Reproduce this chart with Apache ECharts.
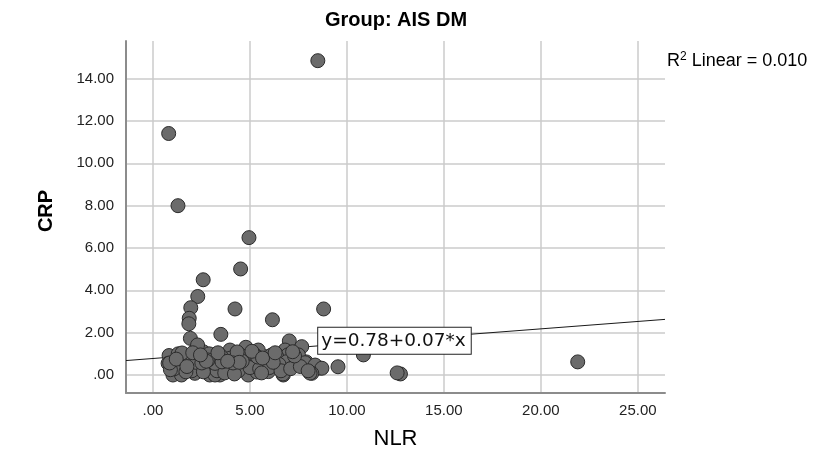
<!DOCTYPE html>
<html>
<head>
<meta charset="utf-8">
<script src="https://cdn.jsdelivr.net/npm/echarts@6/dist/echarts.min.js"></script>
<style>html,body{margin:0;padding:0;background:#fff;}#c{width:826px;height:471px;}</style>
</head>
<body>
<div id="c"></div>
<script>
var titleText = 'Group: AIS DM';
var xName = 'NLR';
var yName = 'CRP';
var xTicks = [0, 5, 10, 15, 20, 25];
var yTicks = [0, 2, 4, 6, 8, 10, 12, 14];
var xRange = [-1.39, 26.4];
var yRange = [-0.85, 15.78];
var fitIntercept = 0.78;
var fitSlope = 0.07;
var fitLabel = 'y=0.78+0.07*x';
var r2Label = 'Linear = 0.010';
var labelAnchor = [8.52, 1.62];

var nlr = [
  0.81, 1.29, 4.95, 8.5, 4.52, 2.59, 2.31, 1.95, 1.87, 1.85, 4.23, 6.16, 8.8, 3.5, 1.93, 7.03, 9.54, 10.85, 12.76, 12.59, 21.9, 7.67, 8.6, 8.2, 7.9,
  0.83, 1.47, 2.59, 3.97, 4.79, 5.43, 6.12, 6.81, 7.5, 6.4, 6.95,
  0.78, 1.29, 1.9, 2.5, 3.1, 3.62, 4.22, 4.74, 5.26, 5.86, 6.38, 6.9, 7.41, 7.84, 8.36, 8.71, 5.7,
  1.03, 1.47, 2.16, 2.93, 3.45, 4.91, 5.95, 6.72, 8.19, 3.2, 5.36, 6.7, 8.1,
  1.1, 1.6, 2.0, 2.3, 2.7, 3.0, 3.3, 3.8, 4.0, 4.4, 4.5, 5.0, 5.2, 5.5, 6.0, 6.5, 6.6, 7.1, 7.6, 8.0,
  1.3, 1.8, 2.2, 2.9, 3.5, 4.1, 4.6, 3.2, 2.6, 1.7, 0.9, 5.4, 6.2, 7.3, 3.7, 4.2, 5.6, 2.3, 1.5, 2.84, 4.34, 4.13, 0.86, 2.52, 3.56,
  1.2, 2.05, 2.75, 3.35, 4.45, 5.1, 5.65, 6.3, 7.2, 3.85, 1.75, 2.45
];
var crp = [
  11.41, 8.0, 6.49, 14.85, 5.01, 4.5, 3.71, 3.18, 2.68, 2.42, 3.12, 2.61, 3.12, 1.92, 1.73, 1.61, 0.39, 0.95, 0.05, 0.1, 0.62, 1.34, 0.33, 0.15, 0.62,
  0.92, 0.95, 1.1, 1.18, 1.31, 1.18, 0.95, 1.18, 0.95, 0.95, 0.95,
  0.55, 0.55, 0.47, 0.52, 0.43, 0.58, 0.55, 0.52, 0.71, 0.71, 0.87, 0.63, 0.63, 0.58, 0.47, 0.32, 0.71,
  0.0, 0.0, 0.08, 0.0, 0.0, 0.0, 0.16, 0.0, 0.08, 0.0, 0.14, 0.05, 0.09,
  0.3, 0.7, 0.2, 0.8, 0.3, 0.75, 0.2, 0.3, 0.8, 0.2, 0.95, 0.35, 1.0, 0.3, 0.35, 0.5, 0.2, 0.3, 0.4, 0.2,
  1.0, 0.85, 0.6, 1.0, 0.9, 0.45, 0.65, 0.55, 0.15, 0.15, 0.25, 0.85, 0.6, 0.9, 0.1, 0.05, 0.1, 1.42, 1.04, 0.71, 1.09, 0.57, 0.57, 0.57, 0.62,
  0.75, 1.05, 0.65, 1.05, 0.6, 1.12, 0.8, 1.05, 1.1, 0.65, 0.4, 0.95
];

var points = nlr.map(function (x, i) { return [x, crp[i]]; });
var fitLine = [
  [xRange[0], fitIntercept + fitSlope * xRange[0]],
  [xRange[1], fitIntercept + fitSlope * xRange[1]]
];
function fmt(v) { return v === 0 ? '.00' : v.toFixed(2); }
var sans = '"Liberation Sans", Arial, sans-serif';

var chart = echarts.init(document.getElementById('c'), null, {renderer: 'canvas'});
chart.setOption({
  animation: false,
  backgroundColor: '#fff',
  title: {
    text: titleText,
    left: 391,
    textAlign: 'center',
    top: 5,
    textStyle: {fontFamily: '"Liberation Sans Narrow", "Arial Narrow", "Liberation Sans", sans-serif', fontWeight: 'bold', fontSize: 20, color: '#000'}
  },
  grid: {left: 126, right: 161, top: 41, bottom: 78, containLabel: false},
  xAxis: {
    type: 'value', min: xRange[0], max: xRange[1],
    name: xName, nameLocation: 'middle', nameGap: 35,
    nameTextStyle: {fontFamily: sans, fontSize: 22, color: '#000'},
    axisLine: {show: true, onZero: false, lineStyle: {color: '#8c8c8c', width: 2}},
    axisTick: {show: false, customValues: xTicks},
    axisLabel: {customValues: xTicks, formatter: fmt, margin: 10, fontFamily: sans, fontSize: 15, color: '#222'},
    splitLine: {show: true, lineStyle: {color: '#cbcbcb', width: 1.5}}
  },
  yAxis: {
    type: 'value', min: yRange[0], max: yRange[1],
    name: yName, nameLocation: 'middle', nameGap: 70, nameRotate: 90,
    nameTextStyle: {fontFamily: sans, fontSize: 20, fontWeight: 'bold', color: '#000', padding: [0, 0, 0, 12]},
    axisLine: {show: true, onZero: false, lineStyle: {color: '#8c8c8c', width: 2}},
    axisTick: {show: false, customValues: yTicks},
    axisLabel: {customValues: yTicks, formatter: fmt, margin: 12, fontFamily: sans, fontSize: 15, color: '#222'},
    splitLine: {show: true, lineStyle: {color: '#cbcbcb', width: 1.5}}
  },
  graphic: [{
    type: 'text', left: 667, top: 51,
    style: {
      text: '{n|R}{s|2}{n| ' + r2Label + '}',
      rich: {
        n: {fontFamily: sans, fontSize: 18, fill: '#000', verticalAlign: 'bottom'},
        s: {fontFamily: sans, fontSize: 12, fill: '#000', verticalAlign: 'top', padding: [0, 0, 7, 0]}
      }
    }
  }],
  series: [
    {
      type: 'line', data: fitLine, symbol: 'none', silent: true, z: 3,
      lineStyle: {color: '#1a1a1a', width: 1},
      markPoint: {
        symbol: 'rect', symbolSize: 0,
        data: [{coord: labelAnchor}],
        label: {
          show: true, position: 'right', distance: 0,
          formatter: fitLabel,
          fontFamily: '"DejaVu Sans", sans-serif', fontSize: 18.5, color: '#111',
          backgroundColor: '#fff', borderColor: '#222', borderWidth: 1,
          padding: [4, 5, 3, 3]
        }
      }
    },
    {
      type: 'scatter', data: points, symbol: 'circle', symbolSize: 14, z: 4,
      itemStyle: {color: '#6b6b6b', borderColor: '#2b2b2b', borderWidth: 1, opacity: 1}
    }
  ]
});
</script>
</body>
</html>
